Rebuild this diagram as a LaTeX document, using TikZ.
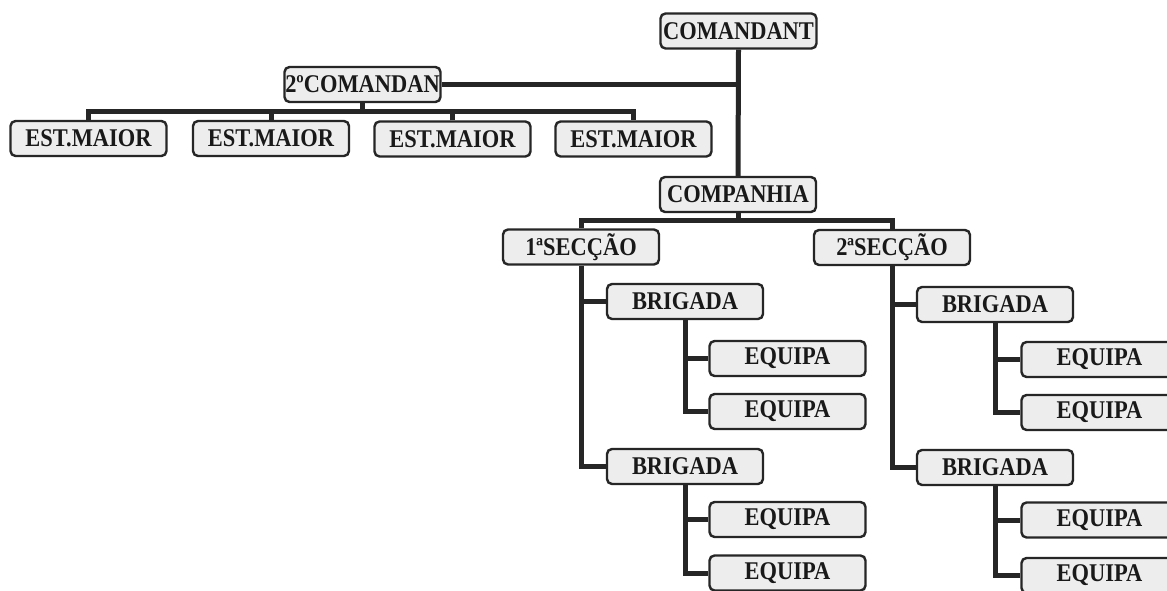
\documentclass[tikz,border=0pt]{standalone}
\usepackage{fontspec}
\usepackage{graphicx}
\setmainfont{Liberation Serif}
\newcommand{\bx}[1]{\scalebox{0.88}[1]{#1}}
\begin{document}
\begin{tikzpicture}[x=1pt,y=-1pt,
  box/.style={draw=black!85, line width=2.4pt, rounded corners=5pt, fill=black!7,
    minimum width=156pt, minimum height=35pt, inner sep=0pt,
    font=\bfseries\fontsize{25.5}{25.5}\selectfont, text=black!90},
  conn/.style={draw=black!85, line width=5pt, line join=miter}]
\useasboundingbox (0,0) rectangle (1167,591);
\clip (0,0) rectangle (1167,591);
\fill[white] (0,0) rectangle (1167,591);
% nodes
\node[box] (cmd) at (738.5,31) {\bx{COMANDANT}};
\node[box] (c2) at (362.5,84.5) {\bx{2ºCOMANDAN}};
\node[box] (est1) at (88.5,138.5) {\bx{EST.MAIOR}};
\node[box] (est2) at (271,138.5) {\bx{EST.MAIOR}};
\node[box] (est3) at (452.5,139) {\bx{EST.MAIOR}};
\node[box] (est4) at (633.5,139) {\bx{EST.MAIOR}};
\node[box] (comp) at (738,194.5) {\bx{COMPANHIA}};
\node[box] (sec1) at (581,247) {\bx{1ªSECÇÃO}};
\node[box] (sec2) at (892,247.5) {\bx{2ªSECÇÃO}};
\node[box] (brig1) at (685,301.5) {\bx{BRIGADA}};
\node[box] (brig2) at (685,466.5) {\bx{BRIGADA}};
\node[box] (eq1) at (787.5,358.5) {\bx{EQUIPA}};
\node[box] (eq2) at (787.5,411.5) {\bx{EQUIPA}};
\node[box] (eq3) at (787.5,519.5) {\bx{EQUIPA}};
\node[box] (eq4) at (787.5,573) {\bx{EQUIPA}};
\node[box] (brig3) at (995,304.5) {\bx{BRIGADA}};
\node[box] (brig4) at (995,467.5) {\bx{BRIGADA}};
\node[box] (eq5) at (1099.5,359.5) {\bx{EQUIPA}};
\node[box] (eq6) at (1099.5,412.5) {\bx{EQUIPA}};
\node[box] (eq7) at (1099.5,520) {\bx{EQUIPA}};
\node[box] (eq8) at (1099.5,575.5) {\bx{EQUIPA}};
\coordinate (estbus) at (0,112);
\coordinate (compbus) at (0,220);
% connectors
\draw[conn] (cmd.south) -- (comp.north);
\draw[conn] (c2.east) -- (c2.east -| cmd.south);
\draw[conn] (c2.south) -- (c2.south |- estbus);
\draw[conn] (est1.north) -- (est1.north |- estbus) -- (est4.north |- estbus) -- (est4.north);
\draw[conn] (est2.north) -- (est2.north |- estbus);
\draw[conn] (est3.north) -- (est3.north |- estbus);
\draw[conn] (comp.south) -- (comp.south |- compbus);
\draw[conn] (sec1.north) -- (sec1.north |- compbus) -- (sec2.north |- compbus) -- (sec2.north);
\draw[conn] (sec1.south) |- (brig2.west);
\draw[conn] (sec1.south |- brig1.west) -- (brig1.west);
\draw[conn] (brig1.south) |- (eq2.west);
\draw[conn] (brig1.south |- eq1.west) -- (eq1.west);
\draw[conn] (brig2.south) |- (eq4.west);
\draw[conn] (brig2.south |- eq3.west) -- (eq3.west);
\draw[conn] (sec2.south) |- (brig4.west);
\draw[conn] (sec2.south |- brig3.west) -- (brig3.west);
\draw[conn] (brig3.south) |- (eq6.west);
\draw[conn] (brig3.south |- eq5.west) -- (eq5.west);
\draw[conn] (brig4.south) |- (eq8.west);
\draw[conn] (brig4.south |- eq7.west) -- (eq7.west);
\end{tikzpicture}
\end{document}
